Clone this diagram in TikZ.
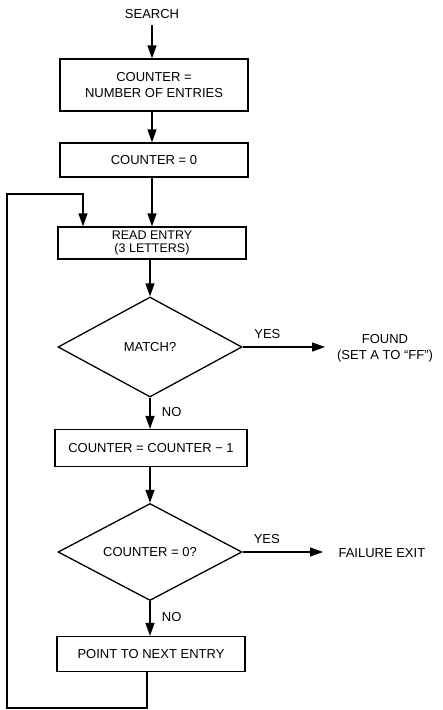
\documentclass[tikz,border=0pt]{standalone}
\usepackage{fontspec}
\setmainfont{Liberation Sans}
\usetikzlibrary{shapes.geometric,arrows.meta}

\begin{document}
\begin{tikzpicture}[x=1pt, y=-1pt, font=\fontsize{13}{16}\selectfont]
    \def\lineWidth{1.3pt}

    \definecolor{borderColour}{HTML}{000000}

    \tikzset{
        box/.style={draw=borderColour, line width=\lineWidth, rectangle, minimum width=188pt, align=center, inner sep=2pt},
        decision/.style={draw=borderColour, line width=\lineWidth, diamond, aspect=1.8, minimum width=184pt, minimum height=100pt, inner sep=0pt},
        flow/.style={draw=borderColour, line width=\lineWidth, -{Triangle[length=13pt,width=9pt]}},
        label/.style={align=center}
    }

    % Page size
    \useasboundingbox (0,0) rectangle (443,710);

    % Start
    \node[label] (search) at (152,14) {SEARCH};

    % Set up the counter
    \node[box, minimum height=52pt] (counterInit) at (154,85) {COUNTER =\\NUMBER OF ENTRIES};
    \node[box, minimum height=34pt] (counterZero) at (154,160) {COUNTER = 0};

    % Read and compare
    \node[box, minimum height=32pt, font=\fontsize{12.5}{13}\selectfont] (readEntry) at (152,243) {READ ENTRY\\(3 LETTERS)};
    \node[decision] (match) at (150,347) {MATCH?};
    \node[label] (found) at (385,348) {FOUND\\(SET A TO ``FF'')};

    % Count down
    \node[box, minimum width=192pt, minimum height=37pt] (decrement) at (151,448) {COUNTER = COUNTER − 1};
    \node[decision, minimum height=97pt] (isZero) at (150,552) {COUNTER = 0?};
    \node[label, anchor=west] (failure) at (335,553) {FAILURE EXIT};

    % Next entry
    \node[box, minimum height=35pt] (nextEntry) at (151,654) {POINT TO NEXT ENTRY};

    % Draw main flow
    \draw[flow] (search.south |- 0,25) -- (search.south |- counterInit.north);
    \draw[flow] (counterInit.south -| search.south) -- (counterZero.north -| search.south);
    \draw[flow] (counterZero.south -| search.south) -- (readEntry.north -| search.south);
    \draw[flow] (readEntry.south -| match.north) -- (match.north);
    \draw[flow] (match.south) -- (decrement.north -| match.south)
        node[pos=0.45, right=8pt] {NO};
    \draw[flow] (decrement.south -| isZero.north) -- (isZero.north);
    \draw[flow] (isZero.south) -- (nextEntry.north -| isZero.south)
        node[pos=0.45, right=8pt] {NO};

    % Draw exits
    \draw[flow] (match.east) -- (325,347) node[pos=0.3, above=4pt] {YES};
    \draw[flow] (isZero.east) -- (323,552) node[pos=0.3, above=4pt] {YES};

    % Draw loop back
    \coordinate (loopBottom) at (147,708);
    \coordinate (loopTop) at (83,194);
    \draw[flow] (nextEntry.south -| loopBottom) -- (loopBottom) -- (7,708) -- (7,194)
        -- (loopTop) -- (readEntry.north -| loopTop);

\end{tikzpicture}
\end{document}
